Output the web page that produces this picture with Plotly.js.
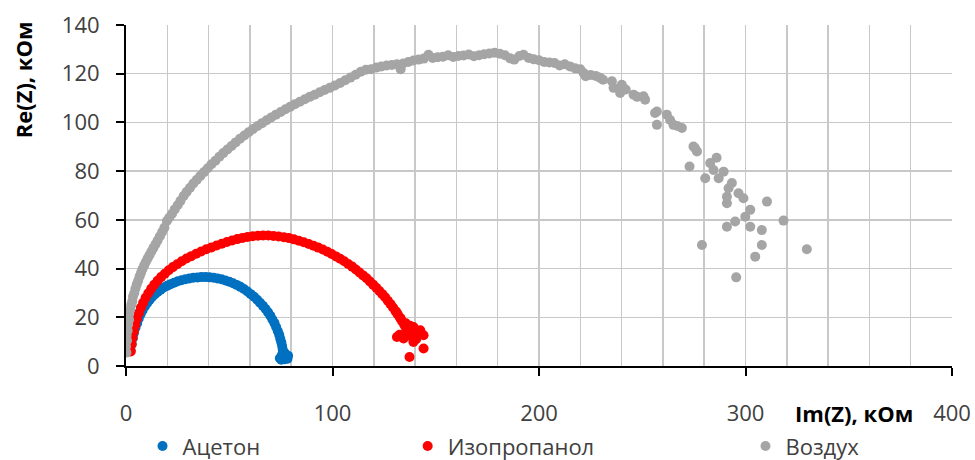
<!DOCTYPE html>
<html>
<head>
<meta charset="utf-8">
<script src="https://cdn.plot.ly/plotly-3.0.1.min.js"></script>
<style>html,body{margin:0;padding:0;background:#fff;}#chart{width:975px;height:460px;}</style>
</head>
<body>
<div id="chart"></div>
<script>
// ---- data ----
const seriesNames = ["Ацетон", "Изопропанол", "Воздух"];
const seriesColors = ["#0070C0", "#FF0000", "#A5A5A5"];

const acetoneX = [2.2, 2.8, 3.3, 3.9, 4.6, 5.4, 6.2, 7.1, 8.0, 9.1, 10.2, 11.4, 12.6, 13.9, 15.3, 16.8, 18.3, 19.9, 21.6, 23.3, 25.1, 26.9, 28.8, 30.7, 32.6, 34.6, 36.5, 38.5, 40.4, 42.4, 44.3, 46.2, 48.1,
  50.0, 51.8, 53.6, 55.4, 57.1, 58.8, 60.4, 62.0, 63.5, 64.9, 66.3, 67.6, 68.8, 69.9, 70.9, 71.9, 72.7, 73.5, 74.2, 74.7, 75.2, 75.6, 75.9, 76.1, 76.3,
  74.5, 75.5, 76.8, 77.5, 78.2, 77.0, 75.2, 76.0, 78.5];
const acetoneY = [6.5, 9.0, 11.4, 13.6, 15.7, 17.6, 19.5, 21.3, 22.8, 24.4, 25.8, 27.1, 28.3, 29.4, 30.4, 31.3, 32.2, 32.9, 33.6, 34.2, 34.8, 35.2, 35.6, 35.9, 36.2, 36.3, 36.5, 36.5, 36.4, 36.2, 35.9, 35.6, 35.1,
  34.6, 34.0, 33.3, 32.5, 31.6, 30.6, 29.5, 28.4, 27.2, 26.0, 24.7, 23.4, 22.0, 20.6, 19.1, 17.6, 16.0, 14.4, 12.8, 11.2, 9.7, 8.2, 6.8, 5.5, 4.3,
  3.2, 4.5, 2.8, 3.9, 3.0, 5.2, 2.6, 3.6, 4.2];

const isoX = [2.3, 2.7, 3.2, 3.8, 4.5, 5.3, 6.2, 7.2, 8.3, 9.5, 10.8, 12.2, 13.7, 15.3, 17.0, 18.8, 20.7, 22.7, 24.8, 27.0, 29.3, 31.6, 34.0, 36.4, 38.9, 41.4, 43.9, 46.4, 48.9, 51.4, 53.9, 56.4, 58.9, 61.4, 63.9, 66.4, 68.9, 71.4, 73.9, 76.4, 78.9, 81.3, 83.7, 86.1, 88.5, 90.8, 93.1, 95.3, 97.5, 99.6, 101.7, 103.7, 105.7, 107.6, 109.5, 111.3, 113.1, 114.8, 116.5, 118.1, 119.7, 121.2, 122.7, 124.1, 125.5, 126.8, 128.1, 129.3, 130.5, 131.6, 132.7, 133.7, 134.7, 135.6, 136.5,
  131.2, 134.4, 139.2, 144.1, 141.0, 139.2, 144.1, 137.3, 142.5, 138.0, 136.8, 140.5, 132.5, 131.0, 133.0, 135.5, 137.5];
const isoY = [6.0, 8.8, 11.6, 14.3, 16.9, 19.4, 21.7, 23.9, 26.0, 28.0, 29.9, 31.7, 33.4, 35.0, 36.5, 37.9, 39.3, 40.6, 41.8, 43.0, 44.1, 45.1, 46.1, 47.0, 47.9, 48.7, 49.5, 50.2, 50.9, 51.5, 52.1, 52.6, 53.0, 53.3, 53.5, 53.6, 53.6, 53.4, 53.2, 52.9, 52.5, 52.0, 51.4, 50.8, 50.1, 49.4, 48.6, 47.8, 46.9, 46.0, 45.0, 44.0, 43.0, 41.9, 40.8, 39.6, 38.4, 37.2, 36.0, 34.7, 33.4, 32.1, 30.8, 29.5, 28.2, 26.8, 25.4, 24.0, 22.6, 21.2, 19.8, 18.4, 17.0, 15.7, 14.5,
  11.9, 11.3, 16.0, 12.6, 12.6, 9.9, 7.2, 3.7, 14.7, 14.0, 12.5, 11.0, 12.8, 22.0, 19.5, 17.5, 16.5];

const airX = [0.2, 0.0, 0.5, 0.3, 0.8, 1.0, 1.5, 1.3, 2.0, 2.5, 3.0, 3.4, 4.0, 4.6, 5.2, 5.9, 6.6, 7.3, 8.0, 8.8, 9.6, 10.5, 11.4, 12.3, 13.3, 14.3, 15.3, 16.4, 17.5, 18.6, 19.8, 21.0, 22.3, 23.6, 25.0, 26.4, 27.9, 29.4, 31.0, 32.6, 34.3, 36.0, 37.8, 39.6, 41.4, 43.3, 45.2, 47.1, 49.1, 51.1, 53.1, 55.2, 57.3, 59.4, 61.5, 63.7, 65.9, 68.1, 70.3, 72.6, 74.9, 77.2, 79.5, 81.8, 84.2, 86.6, 89.0, 91.4, 93.8, 96.2, 98.7, 101.2, 103.7, 106.2, 108.7, 111.2, 113.7, 116.2, 118.7, 121.2, 123.7, 126.2, 128.7, 131.2, 133.0, 134.2, 136.7, 139.2,
  141.7, 144.2, 146.5, 148.5, 151.0, 153.5, 156.0, 158.5, 161.0, 163.5, 166.0, 168.5, 171.0, 173.5, 176.0, 178.5, 181.0, 183.5, 186.0, 188.0, 190.5, 192.5, 195.0, 197.5, 200.0, 202.5, 205.0, 207.5, 210.0, 212.5, 215.0, 217.5, 220.0, 221.6, 222.6, 225.0, 227.5, 229.6, 231.0, 235.3, 236.1, 240.1, 239.3, 242.0, 245.8, 247.5, 250.6, 251.4, 257.1, 256.2, 257.1, 261.9, 263.5, 265.1, 267.0, 269.2, 274.8, 276.5, 275.5, 272.9, 282.9, 284.5, 289.4, 286.0, 280.5, 287.0, 293.4, 291.8, 291.0, 291.0, 296.6, 299.0, 310.4, 302.3, 299.9, 295.0, 291.0, 302.3, 307.9, 318.4, 278.9, 307.9, 304.7, 329.7, 295.5];
const airY = [5.5, 8.0, 10.5, 12.5, 14.5, 17.0, 19.0, 21.0, 23.0, 25.0, 26.5, 28.5, 30.0, 31.8, 33.5, 35.0, 36.8, 38.3, 39.8, 41.3, 42.7, 44.2, 45.6, 47.0, 48.5, 50.0, 51.5, 53.3, 55.0, 56.8, 59.5, 61.0, 62.5, 64.3, 66.0, 67.8, 69.8, 71.5, 73.2, 74.9, 76.5, 78.0, 79.6, 81.2, 82.8, 84.3, 85.9, 87.4, 88.9, 90.3, 91.8, 93.3, 94.6, 96.0, 97.3, 98.5, 99.7, 100.9, 102.0, 103.2, 104.3, 105.4, 106.4, 107.5, 108.5, 109.5, 110.5, 111.4, 112.4, 113.3, 114.2, 115.2, 116.2, 117.3, 118.4, 119.6, 120.8, 121.6, 121.8, 122.5, 123.0, 123.4, 123.6, 123.9, 121.8, 124.2, 124.8, 125.4,
  125.8, 126.2, 127.8, 126.5, 126.8, 127.0, 127.6, 126.9, 127.3, 127.5, 127.9, 127.2, 127.6, 128.0, 128.3, 128.6, 128.2, 127.6, 126.3, 125.8, 127.3, 127.8, 126.5, 125.9, 125.5, 124.8, 124.6, 124.4, 123.4, 123.9, 123.0, 122.2, 121.8, 120.3, 119.0, 119.5, 119.1, 118.3, 117.5, 116.9, 114.2, 115.5, 112.1, 113.5, 111.4, 110.5, 110.7, 109.3, 104.5, 103.9, 99.0, 103.2, 101.0, 99.0, 98.5, 97.7, 90.1, 88.1, 89.5, 81.9, 83.3, 80.5, 79.8, 85.5, 77.1, 77.1, 75.1, 73.0, 69.5, 66.8, 70.9, 68.9, 67.5, 64.1, 61.3, 59.3, 57.2, 57.2, 55.8, 59.7, 49.7, 49.7, 44.9, 47.9, 36.4];

const xTickVals = [0, 100, 200, 300, 400];
const yTickVals = [0, 20, 40, 60, 80, 100, 120, 140];
const xTitle = "Im(Z), кОм";
const yTitle = "Re(Z), кОм";

// ---- chart ----
const FONT = "Open Sans, Noto Sans, sans-serif";
const xs = [acetoneX, isoX, airX];
const ys = [acetoneY, isoY, airY];
const legendIds = ["legend", "legend2", "legend3"];

const traces = seriesNames.map((name, i) => ({
  type: "scatter",
  mode: "markers",
  name: name,
  x: xs[i],
  y: ys[i],
  legend: legendIds[i],
  marker: { color: seriesColors[i], size: 10, line: { width: 0 } },
  hoverinfo: "x+y+name"
}));

const gridColor = "#C8C8C8";
const legendFont = { family: FONT, size: 22, color: "#404040" };
const legendCommon = { orientation: "h", yref: "container", yanchor: "middle", xanchor: "left", y: 0.03, font: legendFont, bgcolor: "rgba(0,0,0,0)", itemwidth: 30 };

const layout = {
  width: 975,
  height: 460,
  paper_bgcolor: "#ffffff",
  plot_bgcolor: "#ffffff",
  margin: { l: 126, r: 23, t: 25, b: 94, autoexpand: false },
  font: { family: FONT, size: 22, color: "#404040" },
  showlegend: true,
  legend: Object.assign({}, legendCommon, { x: 0.02 }),
  legend2: Object.assign({}, legendCommon, { x: 0.341 }),
  legend3: Object.assign({}, legendCommon, { x: 0.75 }),
  xaxis: {
    range: [0, 400],
    tickvals: xTickVals,
    ticks: "outside",
    ticklen: 8,
    tickwidth: 2,
    tickcolor: "#000000",
    showline: true,
    linecolor: "#000000",
    linewidth: 2,
    showgrid: true,
    gridcolor: gridColor,
    gridwidth: 1.5,
    zeroline: false,
    automargin: false,
    ticklabelstandoff: 19,
    tickfont: { family: FONT, size: 22, color: "#404040" },
    minor: { dtick: 20, showgrid: true, gridcolor: gridColor, gridwidth: 1.5, ticks: "" },
    fixedrange: true
  },
  yaxis: {
    range: [0, 140],
    tickvals: yTickVals,
    ticks: "outside",
    ticklen: 8,
    tickwidth: 2,
    tickcolor: "#000000",
    showline: true,
    linecolor: "#000000",
    linewidth: 2,
    showgrid: true,
    gridcolor: gridColor,
    gridwidth: 1.5,
    zeroline: false,
    automargin: false,
    ticklabelstandoff: 12,
    tickfont: { family: FONT, size: 22, color: "#404040" },
    fixedrange: true
  },
  annotations: [
    { text: "<b>" + xTitle + "</b>", xref: "paper", yref: "paper", x: 0.881, y: -0.139, xanchor: "center", yanchor: "middle", showarrow: false, font: { family: FONT, size: 22, color: "#000000" } },
    { text: "<b>" + yTitle + "</b>", xref: "paper", yref: "paper", x: -0.125, y: 0.84, xanchor: "center", yanchor: "middle", textangle: -90, showarrow: false, font: { family: FONT, size: 22, color: "#000000" } }
  ]
};

Plotly.newPlot("chart", traces, layout, { displayModeBar: false, staticPlot: true });
</script>
</body>
</html>
